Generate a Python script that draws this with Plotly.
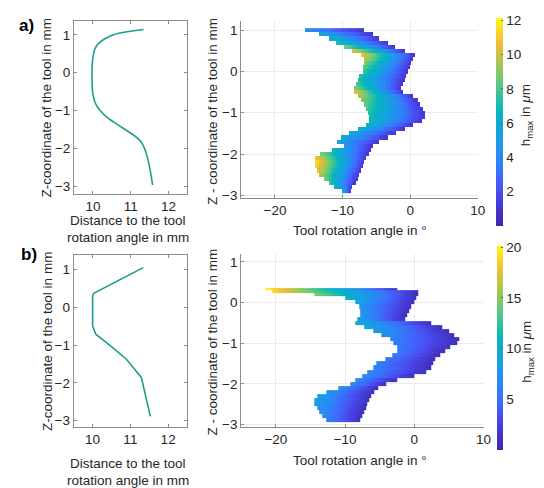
import numpy as np
import plotly.graph_objects as go

# left panels: distance to the tool rotation axis vs z
dist_a = [11.34, 10.46, 10.09, 10.0, 10.0, 10.09, 10.36, 10.8, 11.29, 11.58]
zline_a = [1.14, 0.97, 0.70, 0.40, -0.56, -0.86, -1.17, -1.47, -1.85, -2.97]
dist_b = [11.34, 10.28, 10.03, 10.0, 10.0, 10.09, 10.36, 10.89, 11.29, 11.53]
zline_b = [1.05, 0.50, 0.37, 0.30, -0.50, -0.72, -0.93, -1.37, -1.86, -2.89]

# right panels: h_max band per z row (left edge, right edge, h at left edge)
z_a = [1.0, 0.9, 0.8, 0.7, 0.6, 0.5, 0.4, 0.3, 0.2, 0.1, 0.0, -0.1, -0.2, -0.3,
       -0.4, -0.5, -0.6, -0.7, -0.8, -0.9, -1.0, -1.1, -1.2, -1.3, -1.4, -1.5,
       -1.6, -1.7, -1.8, -1.9, -2.0, -2.1, -2.2, -2.3, -2.4, -2.5, -2.6, -2.7,
       -2.8, -2.9]
left_a = [-15.6, -13.5, -12.1, -10.9, -9.8, -8.5, -7.2, -6.8, -6.7, -6.9, -7.1,
          -7.4, -7.7, -7.9, -8.2, -8.2, -7.8, -7.2, -6.8, -6.5, -6.2, -5.9, -6.0,
          -6.4, -7.8, -8.9, -10.2, -10.7, -9.8, -11.5, -13.2, -14.0, -14.1, -14.0,
          -13.8, -13.5, -12.8, -12.0, -11.2, -10.0]
right_a = [-6.8, -5.6, -4.4, -3.2, -2.3, -0.8, 0.7, 0.6, 0.3, 0.0, -0.3, -0.5,
           -0.8, -1.0, -1.3, -0.9, 0.5, 1.2, 1.6, 1.9, 2.2, 2.3, 1.8, 0.5, -0.8,
           -2.0, -3.3, -4.6, -5.5, -5.8, -6.1, -6.4, -6.7, -6.9, -7.2, -7.5, -7.8,
           -8.1, -8.4, -8.7]
hleft_a = [4.5, 5.5, 6.5, 7.5, 9.0, 10.5, 11.0, 10.0, 9.0, 8.5, 8.0, 7.5, 7.5,
           8.0, 9.0, 10.5, 10.0, 9.0, 8.5, 8.0, 7.5, 7.0, 7.0, 6.5, 6.5, 6.0, 6.0,
           5.5, 5.0, 7.0, 9.0, 11.0, 12.0, 11.5, 11.0, 10.0, 9.0, 8.0, 7.0, 6.0]
hright_a = 1.0

z_b = [0.33, 0.28, 0.2, 0.1, 0.0, -0.1, -0.2, -0.3, -0.4, -0.5, -0.6, -0.7, -0.8,
       -0.9, -1.0, -1.1, -1.2, -1.3, -1.4, -1.5, -1.6, -1.7, -1.8, -1.9, -2.0,
       -2.1, -2.2, -2.3, -2.4, -2.5, -2.6, -2.7, -2.8, -2.9]
left_b = [-21.6, -20.5, -14.5, -10.0, -8.4, -7.9, -7.8, -7.8, -8.2, -8.5, -7.2,
          -6.0, -4.8, -3.6, -2.9, -2.5, -2.6, -3.2, -4.3, -5.4, -6.1, -6.8, -7.6,
          -8.4, -9.3, -11.0, -12.8, -14.0, -14.4, -14.4, -14.1, -13.7, -13.3, -12.8]
right_b = [-2.5, 0.6, 0.4, 0.2, -0.1, -0.4, -0.8, -1.0, -1.2, 2.5, 4.0, 5.0, 5.8,
           6.4, 6.3, 5.3, 4.4, 3.7, 3.1, 2.7, 2.4, 1.8, 0.1, -2.6, -3.9, -5.2, -5.8,
           -6.3, -6.5, -6.8, -7.1, -7.3, -7.6, -7.7]
hleft_b = [20.0, 19.0, 15.0, 11.0, 9.0, 8.0, 8.0, 8.0, 8.5, 10.0, 9.5, 8.5, 7.5,
           6.5, 6.0, 6.0, 6.0, 6.0, 6.0, 6.0, 6.5, 6.5, 7.0, 7.0, 7.0, 7.5, 8.0,
           8.5, 9.0, 8.5, 8.0, 7.5, 7.0, 6.5]
hright_b = 1.0

angle_grid = np.arange(-24.875, 10, 0.25)

# MATLAB parula
parula = [[0.0, "rgb(62,38,168)"], [0.12, "rgb(70,62,220)"], [0.18, "rgb(72,82,244)"],
          [0.25, "rgb(60,110,252)"], [0.31, "rgb(45,132,247)"], [0.37, "rgb(33,147,236)"],
          [0.43, "rgb(22,161,225)"], [0.5, "rgb(10,172,206)"], [0.56, "rgb(8,183,186)"],
          [0.62, "rgb(46,193,159)"], [0.68, "rgb(91,200,129)"], [0.75, "rgb(140,202,96)"],
          [0.81, "rgb(188,196,68)"], [0.87, "rgb(232,188,58)"], [0.93, "rgb(252,208,44)"],
          [1.0, "rgb(249,251,14)"]]


def band(left, right, hleft, hright):
    rows = []
    for l, r, h in zip(left, right, hleft):
        t = (angle_grid - l) / (r - l)
        row = np.where((t >= 0) & (t <= 1), h + (hright - h) * t, np.nan)
        rows.append(row)
    return np.array(rows)


W, H = 544, 488
FONT = "Arial"
TXT = "#262626"


def px(x):
    return x / W


def py(y):
    return 1 - y / H


fig = go.Figure()

fig.add_trace(go.Scatter(x=dist_a, y=zline_a, mode="lines", line=dict(color="#1b9e8a", width=1.6),
                         line_shape="spline", xaxis="x", yaxis="y", showlegend=False))
fig.add_trace(go.Scatter(x=dist_b, y=zline_b, mode="lines", line=dict(color="#1b9e8a", width=1.6),
                         xaxis="x3", yaxis="y3", showlegend=False))

cb_common = dict(xanchor="left", yanchor="bottom", lenmode="fraction", outlinewidth=0, xpad=0,
                 ypad=0, ticks="inside", ticklen=2, tickcolor="#666",
                 tickfont=dict(size=13.5, color=TXT, family=FONT))

fig.add_trace(go.Heatmap(x=angle_grid, y=z_a, z=band(left_a, right_a, hleft_a, hright_a),
                         colorscale=parula, zmin=0, zmax=12.15, xaxis="x2", yaxis="y2",
                         hoverongaps=False,
                         colorbar=dict(cb_common, x=px(495), y=py(220), len=210 / H, thickness=7,
                                       tickvals=[2, 4, 6, 8, 10, 12])))
fig.add_trace(go.Heatmap(x=angle_grid, y=z_b, z=band(left_b, right_b, hleft_b, hright_b),
                         colorscale=parula, zmin=0, zmax=20.1, xaxis="x4", yaxis="y4",
                         hoverongaps=False,
                         colorbar=dict(cb_common, x=px(496), y=py(446.7), len=206 / H, thickness=6,
                                       tickvals=[5, 10, 15, 20])))

line_ax = dict(showline=True, linecolor="#8c8c8c", linewidth=1, mirror="ticks", ticks="inside",
               ticklen=3, tickcolor="#8c8c8c", showgrid=False, zeroline=False,
               tickfont=dict(size=13.5, color=TXT, family=FONT))
map_ax = dict(showline=True, linecolor="#8c8c8c", linewidth=1, mirror=False, ticks="inside",
              ticklen=3, tickcolor="#8c8c8c", showgrid=True, gridcolor="#ebebeb", zeroline=False,
              tickfont=dict(size=13.5, color=TXT, family=FONT))

fig.update_layout(
    width=W, height=H, margin=dict(l=0, r=0, t=0, b=0),
    paper_bgcolor="white", plot_bgcolor="white",
    font=dict(family=FONT, color=TXT, size=13.5),
    xaxis=dict(line_ax, domain=[px(67), px(182)], range=[9.5, 12.5], tickvals=[10, 11, 12], anchor="y"),
    yaxis=dict(line_ax, domain=[py(188), py(13)], range=[-3.21, 1.37], tickvals=[-3, -2, -1, 0, 1], anchor="x"),
    xaxis2=dict(map_ax, domain=[px(236.7), px(476.7)], range=[-25, 10], tickvals=[-20, -10, 0, 10], anchor="y2"),
    yaxis2=dict(map_ax, domain=[py(191.7), py(13.3)], range=[-3.06, 1.22], tickvals=[-3, -2, -1, 0, 1], anchor="x2"),
    xaxis3=dict(line_ax, domain=[px(66.7), px(181.7)], range=[9.5, 12.5], tickvals=[10, 11, 12], anchor="y3"),
    yaxis3=dict(line_ax, domain=[py(423.3), py(249.3)], range=[-3.17, 1.39], tickvals=[-3, -2, -1, 0, 1], anchor="x3"),
    xaxis4=dict(map_ax, domain=[px(236.7), px(482.7)], range=[-25, 10], tickvals=[-20, -10, 0, 10], anchor="y4"),
    yaxis4=dict(map_ax, domain=[py(423.3), py(248.3)], range=[-3.06, 1.2], tickvals=[-3, -2, -1, 0, 1], anchor="x4"),
)


def label(text, x, y, angle=0, size=13.5, bold=False):
    fig.add_annotation(text=f"<b>{text}</b>" if bold else text, x=px(x), y=py(y),
                       xref="paper", yref="paper", showarrow=False, textangle=angle,
                       font=dict(size=size, color="black" if bold else TXT, family=FONT),
                       xanchor="center", yanchor="middle")


label("a)", 19, 18, size=17, bold=True)
label("b)", 21, 249, size=17, bold=True)
label("Z-coordinate of the tool in mm", 40, 101, angle=-90)
label("Z-coordinate of the tool in mm", 40, 337, angle=-90)
label("Z - coordinate of the tool in mm", 208, 104, angle=-90)
label("Z - coordinate of the tool in mm", 208, 337, angle=-90)
label("Distance to the tool", 122, 215)
label("rotation angle in mm", 122, 232)
label("Distance to the tool", 122, 460)
label("rotation angle in mm", 122, 477)
label("Tool rotation angle in °", 357, 225)
label("Tool rotation angle in °", 357, 457)
label("h<sub>max</sub> in <i>μ</i>m", 527, 108, angle=-90)
label("h<sub>max</sub> in <i>μ</i>m", 527, 347, angle=-90)

fig.write_html("out.html")
